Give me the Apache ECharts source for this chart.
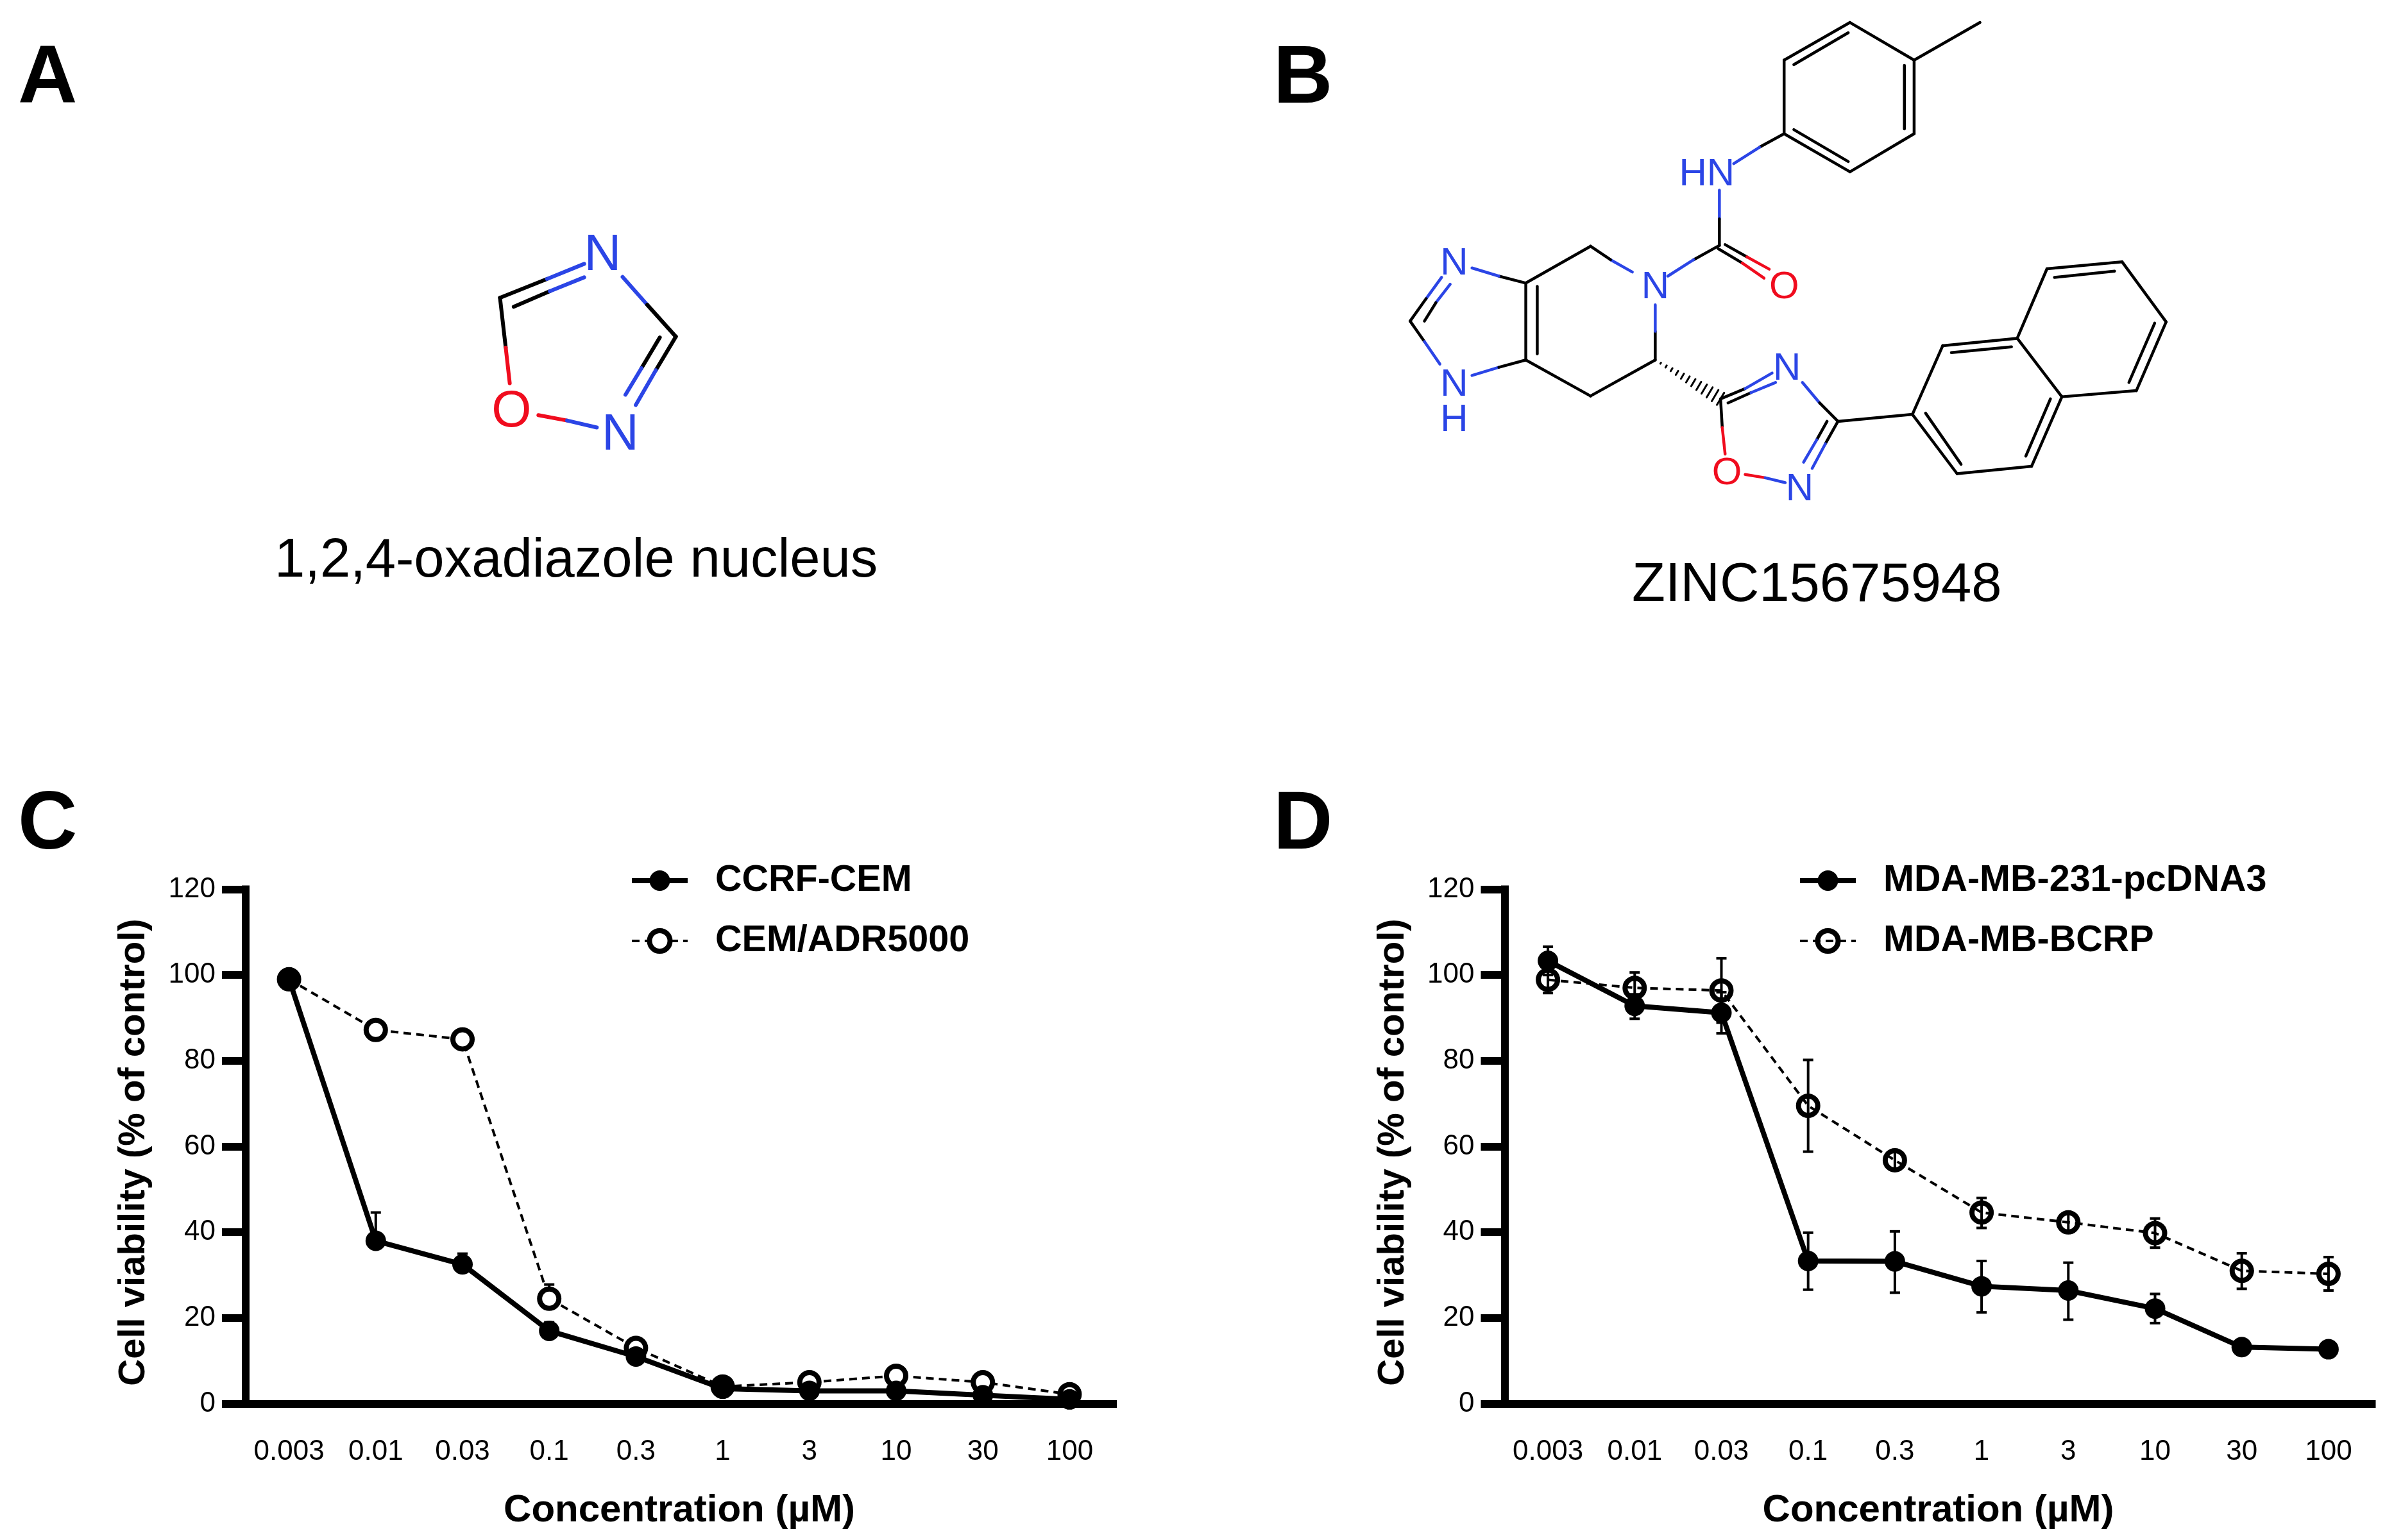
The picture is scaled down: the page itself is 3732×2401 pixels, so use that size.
<!DOCTYPE html>
<html>
<head>
<meta charset="utf-8">
<style>html,body{margin:0;padding:0;background:#fff}#c{width:3732px;height:2401px}</style>
<script src="https://cdn.jsdelivr.net/npm/echarts@6/dist/echarts.min.js"></script>
</head>
<body>
<div id="c"></div>
<script>
const concentrations = ['0.003','0.01','0.03','0.1','0.3','1','3','10','30','100'];
const yAxisTicks = {min:0,max:120,interval:20};

const ccrfName = 'CCRF-CEM';
const ccrfValues = [99,38,32.5,17,11,3.5,3,3,2,1];
const ccrfLow = [null,null,null,null,null,null,null,null,null,null];
const ccrfHigh = [null,44.6,35,19,null,null,null,null,null,null];

const adrName = 'CEM/ADR5000';
const adrValues = [99,87.2,85,24.5,13,4,5,6.5,5,2.2];
const adrLow = [null,null,null,null,null,null,null,null,null,null];
const adrHigh = [null,null,null,27.8,null,null,null,null,null,null];

const mdaName = 'MDA-MB-231-pcDNA3';
const mdaValues = [103.3,92.8,91.2,33.3,33.2,27.4,26.4,22.2,13.2,12.7];
const mdaLow = [100,89.8,86.4,26.6,25.9,21.3,19.6,18.8,null,null];
const mdaHigh = [106.6,95.5,96,39.9,40.2,33.3,32.9,25.6,null,null];

const bcrpName = 'MDA-MB-BCRP';
const bcrpValues = [98.9,97,96.4,69.5,56.8,44.6,42.3,39.8,31,30.3];
const bcrpLow = [95.8,93.4,88.9,58.8,54.8,41,40.3,36.4,26.8,26.4];
const bcrpHigh = [102,100.6,103.9,80.2,58.8,48,44.3,43.2,35.1,34.2];

const xTitle = 'Concentration (µM)';
const yTitle = 'Cell viability (% of control)';
const panelLetters = ['A','B','C','D'];
const captionA = '1,2,4-oxadiazole nucleus';
const captionB = 'ZINC15675948';

const FONT = '"Liberation Sans", Arial, sans-serif';
const BLACK='#000', BLUE='#2b45e6', RED='#f00c1e';

function axes(grid){
  return {
    x:{type:'category',gridIndex:grid,data:concentrations,boundaryGap:true,
      name:xTitle,nameLocation:'middle',nameGap:137,
      nameTextStyle:{fontFamily:FONT,fontWeight:'bold',fontSize:60,color:'#000'},
      axisLine:{lineStyle:{color:'#000',width:12,cap:'square'}},
      axisTick:{alignWithLabel:true,length:36,lineStyle:{color:'#000',width:12}},
      axisLabel:{interval:0,margin:53,fontFamily:FONT,fontSize:44,color:'#000'},
      splitLine:{show:false}},
    y:{type:'value',gridIndex:grid,min:yAxisTicks.min,max:yAxisTicks.max,interval:yAxisTicks.interval,
      name:yTitle,nameLocation:'middle',nameGap:145,nameRotate:90,
      nameTextStyle:{fontFamily:FONT,fontWeight:'bold',fontSize:58,color:'#000',padding:[0,18,0,0]},
      axisLine:{show:true,lineStyle:{color:'#000',width:12,cap:'square'}},
      axisTick:{show:true,length:37,lineStyle:{color:'#000',width:12}},
      axisLabel:{margin:47,fontFamily:FONT,fontSize:44,color:'#000'},
      splitLine:{show:false}}
  };
}
function errorSeries(name,axisIdx,values,low,high){
  const rows=[];
  values.forEach((v,i)=>{ if(low[i]!=null||high[i]!=null) rows.push([i,v,low[i]==null?v:low[i],high[i]==null?v:high[i]]); });
  return {type:'custom',name:name+' error',xAxisIndex:axisIdx,yAxisIndex:axisIdx,silent:true,z:1,
    encode:{x:0,y:[1,2,3]},data:rows,
    renderItem:(p,api)=>{
      const i=api.value(0),v=api.value(1),lo=api.value(2),hi=api.value(3);
      const a=api.coord([i,lo]),b=api.coord([i,hi]),hw=8;
      const st={stroke:'#000',lineWidth:4,fill:null};
      const ch=[{type:'line',shape:{x1:a[0],y1:a[1],x2:b[0],y2:b[1]},style:st}];
      if(lo!==v) ch.push({type:'line',shape:{x1:a[0]-hw,y1:a[1],x2:a[0]+hw,y2:a[1]},style:st});
      if(hi!==v) ch.push({type:'line',shape:{x1:b[0]-hw,y1:b[1],x2:b[0]+hw,y2:b[1]},style:st});
      return {type:'group',children:ch};
    }};
}
function solid(name,idx,values){
  return {type:'line',name,xAxisIndex:idx,yAxisIndex:idx,data:values,z:4,symbol:'circle',symbolSize:32,
    showSymbol:true,lineStyle:{color:'#000',width:8},itemStyle:{color:'#000',borderWidth:0},animation:false};
}
function hollow(name,idx,values,fill){
  return {type:'line',name,xAxisIndex:idx,yAxisIndex:idx,data:values,z:3,symbol:'circle',symbolSize:30,
    showSymbol:true,lineStyle:{color:'#000',width:4,type:[12,8]},
    itemStyle:{color:fill,borderColor:'#000',borderWidth:8},animation:false};
}
function legend(names,left,pad,size){
  return {orient:'vertical',left,top:1344,padding:0,itemWidth:87,itemHeight:40,itemGap:36,selectedMode:false,
    data:names,
    lineStyle:{width:'inherit',type:'inherit',color:'inherit'},
    itemStyle:{borderWidth:'inherit',borderColor:'inherit',color:'inherit'},
    textStyle:{fontFamily:FONT,fontWeight:'bold',fontSize:size,color:'#000',padding:[0,0,0,pad]}};
}

/* ---- chemical structure drawings (not chart data) ---- */
const gfx=[];
function line(x1,y1,x2,y2,c,w){gfx.push({type:'line',silent:true,shape:{x1,y1,x2,y2},style:{stroke:c,lineWidth:w||4,lineCap:'round'}});}
function txtC(t,x,y,font,fill){gfx.push({type:'text',silent:true,style:{text:t,x,y,font,fill,align:'center',verticalAlign:'middle'}});}
function txtB(t,x,y,size,weight){gfx.push({type:'text',silent:true,style:{text:t,x,y,font:weight+' '+size+'px '+FONT,fill:'#000',align:'left',verticalAlign:'middle'}});}
const ax=x=>x/1.12, ay=y=>y/1.568, bx=x=>2100+x/1.12;
function A(x1,y1,x2,y2,c){line(ax(x1),ay(y1),ax(x2),ay(y2),c,6);}
function B(x1,y1,x2,y2,c){line(bx(x1),ay(y1),bx(x2),ay(y2),c,4.5);}
function atomA(t,x,y,c){txtC(t,ax(x),ay(y)+5,'80px '+FONT,c);}
function atomB(t,x,y,c){txtC(t,bx(x),ay(y)+5,'60px '+FONT,c);}

// Panel A
[[873,728,955,682,BLACK],[955,682,1020,645,BLUE],[897,750,960,712,BLACK],[960,712,1020,678,BLUE],
 [873,728,883,850,BLACK],[883,850,890,937,RED],[940,1015,990,1028,RED],[990,1028,1042,1045,BLUE],
 [1087,677,1130,745,BLUE],[1130,745,1180,823,BLACK],[1180,823,1145,905,BLACK],[1145,905,1110,990,BLUE],
 [1152,825,1120,900,BLACK],[1120,900,1092,965,BLUE]].forEach(s=>A(...s));
atomA('N',1052,618,BLUE);atomA('O',893,1000,RED);atomA('N',1083,1056,BLUE);

// Panel B
[[763,147,878,55],[878,55,990,147],[990,147,990,327],[990,327,878,420],[878,420,763,327],[763,327,763,147],
 [780,158,875,80],[973,160,973,315],[780,317,875,395],[990,147,1105,55],
 [425,602,312,692],[312,692,312,880],[332,700,332,865],[312,880,425,968],[425,968,538,880],
 [857,1030,987,1013],[987,1013,1040,845],[1040,845,1170,827],[1170,827,1248,970],[1248,970,1195,1140],
 [1195,1140,1065,1158],[1065,1158,987,1013],[1170,827,1222,657],[1222,657,1353,640],[1353,640,1430,787],
 [1430,787,1378,955],[1378,955,1248,970],[1055,862,1160,848],[1010,1010,1072,1135],[1228,975,1185,1115],
 [1235,678,1340,663],[1410,790,1365,935]].forEach(s=>B(...s,BLACK));
[[763,327,720,360,BLACK],[720,360,675,400,BLUE],[650,465,650,535,BLUE],[650,535,650,600,BLACK],
 [648,608,690,643,BLACK],[690,643,728,680,RED],[660,598,698,628,BLACK],[698,628,737,658,RED],
 [650,600,605,635,BLACK],[605,635,560,675,BLUE],[498,665,460,635,BLUE],[460,635,425,602,BLACK],
 [312,692,265,675,BLACK],[265,675,218,655,BLUE],[165,678,138,730,BLUE],[138,730,110,785,BLACK],
 [180,695,155,740,BLUE],[155,740,135,785,BLACK],[110,785,135,835,BLACK],[135,835,162,890,BLUE],
 [218,918,265,898,BLUE],[265,898,312,880,BLACK],[538,880,538,810,BLACK],[538,810,538,745,BLUE],
 [652,975,695,950,BLACK],[695,950,742,912,BLUE],[665,985,705,960,BLACK],[705,960,748,935,BLUE],
 [795,935,825,985,BLUE],[825,985,857,1030,BLACK],[857,1030,835,1085,BLACK],[835,1085,812,1145,BLUE],
 [838,1030,820,1075,BLACK],[820,1075,797,1130,BLUE],[695,1160,730,1168,RED],[730,1168,765,1180,BLUE],
 [652,975,655,1045,BLACK],[655,1045,660,1110,RED]].forEach(s=>B(...s));
(function(){ // hashed wedge
  const x0=bx(538),y0=ay(880),x1=bx(652),y1=ay(975),n=12;
  const dx=x1-x0,dy=y1-y0,l=Math.hypot(dx,dy),px=-dy/l,py=dx/l;
  for(let i=1;i<=n;i++){const t=i/n,h=t*11,cx=x0+dx*t,cy=y0+dy*t;line(cx-px*h,cy-py*h,cx+px*h,cy+py*h,BLACK,3);}
})();
atomB('HN',628,420,BLUE);atomB('N',538,695,BLUE);atomB('O',763,695,RED);atomB('N',187,638,BLUE);
atomB('N',187,933,BLUE);atomB('H',187,1020,BLUE);atomB('N',768,895,BLUE);atomB('O',663,1150,RED);atomB('N',790,1190,BLUE);

// Captions and panel letters (y = vertical middle of the text box)
txtB(captionA,428,876,85,'normal');
txtB(captionB,2544,914,85,'normal');
const letterPos=[[28,125],[1985,125],[28,1288],[1985,1288]];
panelLetters.forEach((t,i)=>txtB(t,letterPos[i][0],letterPos[i][1],128,'bold'));

const a0=axes(0),a1=axes(1);
const chart=echarts.init(document.getElementById('c'),null,{renderer:'canvas'});
chart.setOption({
  animation:false,backgroundColor:'#fff',
  grid:[{left:383,top:1386.5,width:1352,height:802,outerBoundsMode:'none'},
        {left:2345.5,top:1386.5,width:1352,height:802,outerBoundsMode:'none'}],
  xAxis:[a0.x,a1.x],yAxis:[a0.y,a1.y],
  legend:[legend([ccrfName,adrName],981,38,57.5),legend([mdaName,bcrpName],2802,38,57.5)],
  series:[
    errorSeries(adrName,0,adrValues,adrLow,adrHigh),
    errorSeries(ccrfName,0,ccrfValues,ccrfLow,ccrfHigh),
    hollow(adrName,0,adrValues,'#fff'),
    solid(ccrfName,0,ccrfValues),
    errorSeries(bcrpName,1,bcrpValues,bcrpLow,bcrpHigh),
    errorSeries(mdaName,1,mdaValues,mdaLow,mdaHigh),
    hollow(bcrpName,1,bcrpValues,'rgba(255,255,255,0)'),
    solid(mdaName,1,mdaValues)
  ],
  graphic:{elements:gfx}
});
</script>
</body>
</html>
